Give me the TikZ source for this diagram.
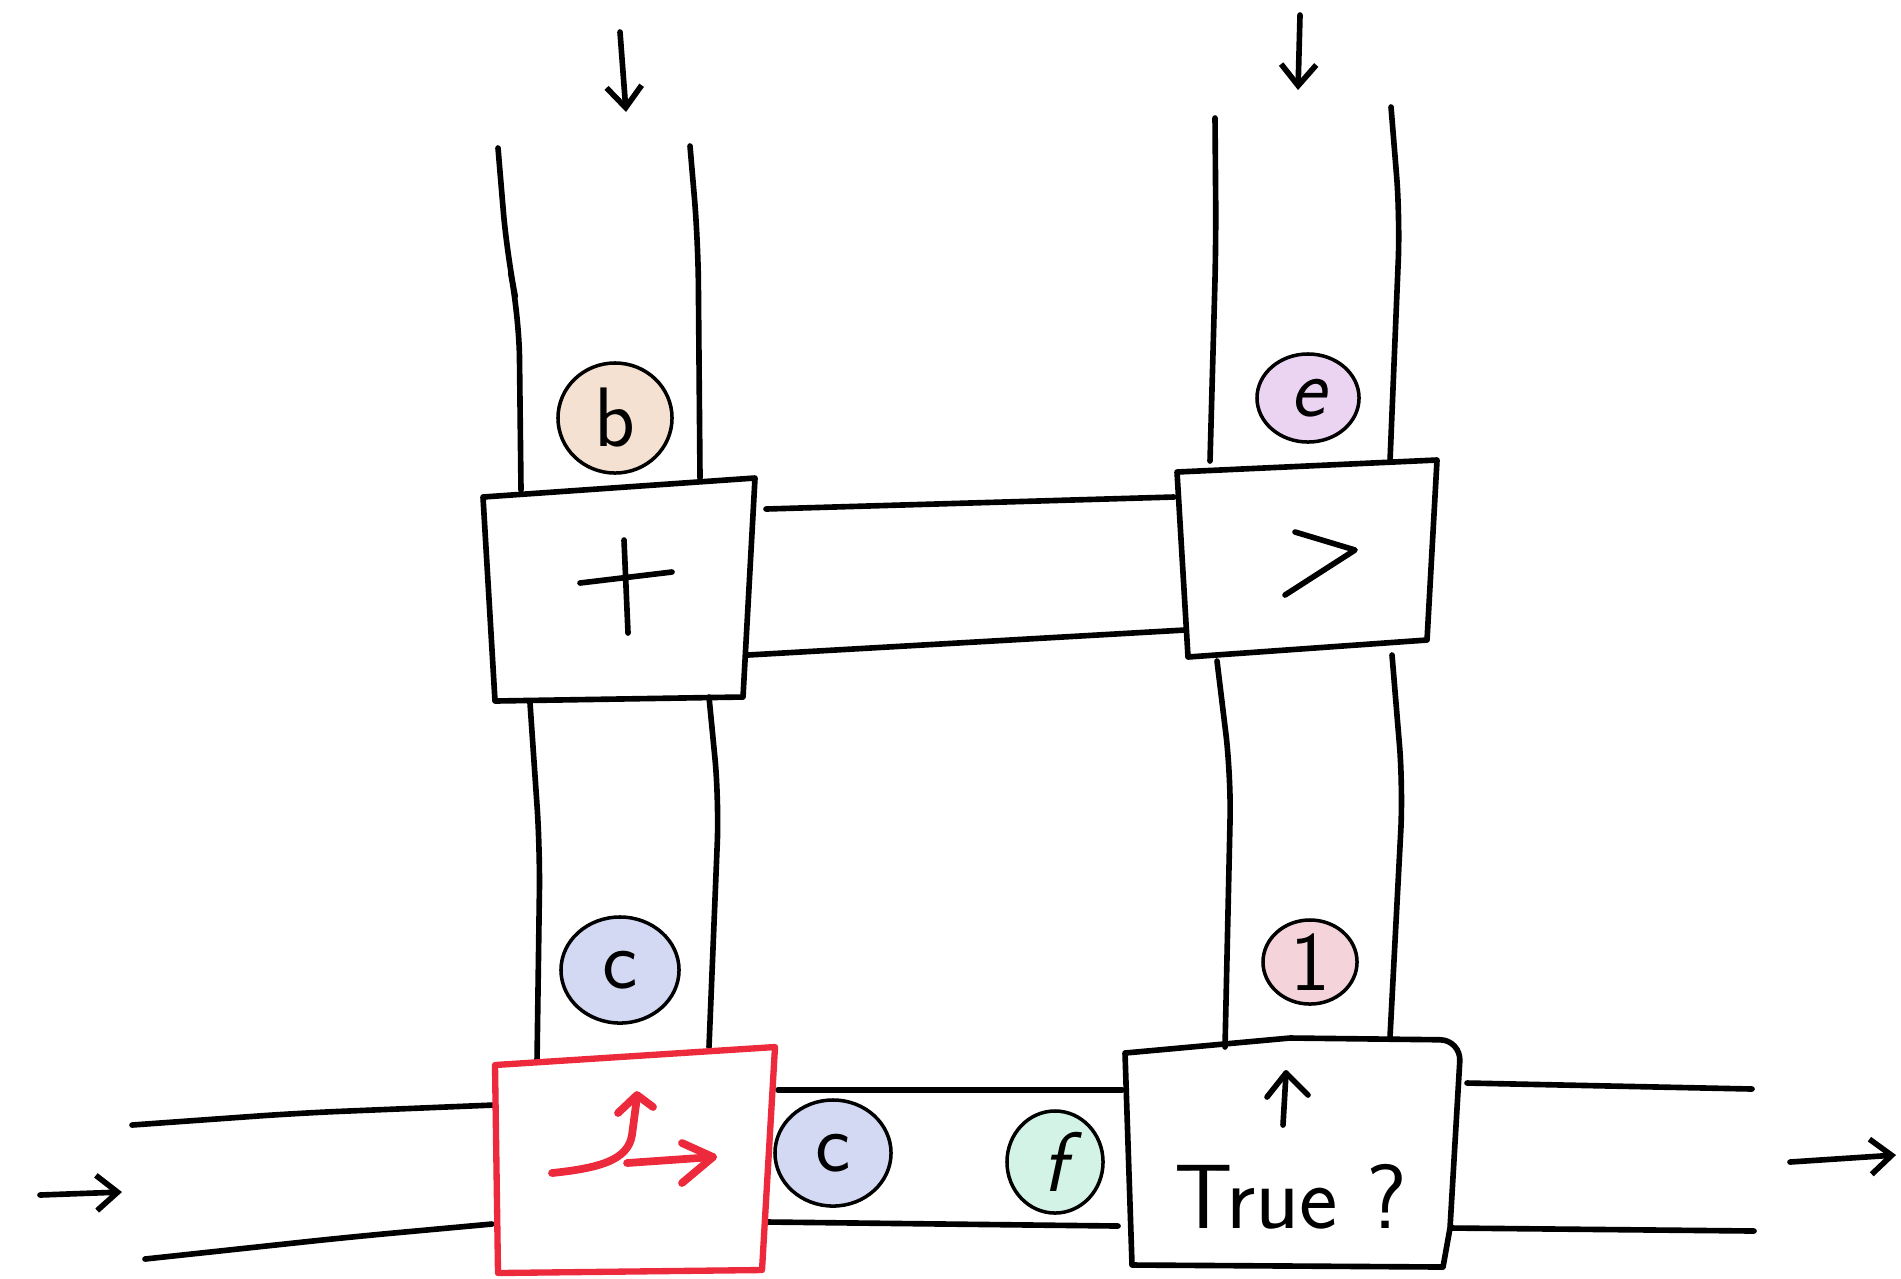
\documentclass[tikz,border=0pt]{standalone}
\usetikzlibrary{shapes.geometric,arrows.meta}
\definecolor{sred}{HTML}{EC2A3C}
\definecolor{tb}{HTML}{F4E1D1}
\definecolor{te}{HTML}{EBD3F2}
\definecolor{tc}{HTML}{D3D8F3}
\definecolor{tone}{HTML}{F4D3DB}
\definecolor{tf}{HTML}{D3F3E7}
\begin{document}
\begin{tikzpicture}[x=0.01cm,y=-0.01cm,line width=1.6pt,line cap=round,line join=round,
  pen/.style={draw=black,line width=1.6pt,rounded corners=12pt},
  redpen/.style={draw=sred,line width=1.8pt},
  redstroke/.style={draw=sred,line width=2.2pt},
  boxline/.style={draw=black,line width=1.6pt},
  token/.style={ellipse,draw=black,line width=1.0pt,inner sep=0pt,
    font=\sffamily\fontsize{24}{24}\selectfont},
  barb/.style={-{Straight Barb[length=6pt,width=10pt]}},
  lbl/.style={font=\sffamily\fontsize{26}{26}\selectfont,inner sep=0pt}]
\useasboundingbox (0,0) rectangle (1901,1278);

% top-left vertical tube
\draw[pen] (498,148) -- (507,255) -- (519,315) -- (521,490);
\draw[pen] (690,146) -- (698,240) -- (700,478);
% top-right vertical tube
\draw[pen] (1215,118) -- (1216,243) -- (1210,461);
\draw[pen] (1391,107) -- (1400,218) -- (1390,461);

% box +
\coordinate (p1) at (483,497); \coordinate (p2) at (755,478);
\coordinate (p3) at (743,697); \coordinate (p4) at (495,701);
\draw[boxline] (p1) -- (p2) -- (p3) -- (p4) -- cycle;
\draw[pen] (580,583) -- (672,572);
\draw[pen] (624,540) -- (628,633);

% box >
\coordinate (g1) at (1177,472); \coordinate (g2) at (1437,460);
\coordinate (g3) at (1427,640); \coordinate (g4) at (1188,657);
\draw[boxline] (g1) -- (g2) -- (g3) -- (g4) -- cycle;
\draw[boxline] (1295,532) -- (1355,550) -- (1285,595);

% horizontal tube between + and >
\draw[pen] (766,509) -- (1174,497);
\draw[pen] (748,655) -- (1185,630);

% middle vertical tubes
\draw[pen] (530,703) -- (540,849) -- (537,1062);
\draw[pen] (709,697) -- (719,800) -- (709,1047);
\draw[pen] (1217,661) -- (1231,776) -- (1225,1047);
\draw[pen] (1392,655) -- (1403,788) -- (1390,1037);

% bottom tubes
\draw[pen] (132,1125) -- (300,1113) -- (494,1105);
\draw[pen] (145,1259) -- (350,1237) -- (492,1224);
\draw[pen] (778,1090) -- (1122,1090);
\draw[pen] (768,1222) -- (1118,1226);
\draw[pen] (1467,1083) -- (1752,1089);
\draw[pen] (1451,1228) -- (1754,1231);

% red box
\coordinate (r1) at (495,1065); \coordinate (r2) at (775,1047);
\coordinate (r3) at (762,1270); \coordinate (r4) at (498,1273);
\draw[redpen] (r1) -- (r2) -- (r3) -- (r4) -- cycle;
\draw[redstroke] (552,1173) .. controls (600,1168) and (628,1160) .. (632,1135) -- (637,1097);
\draw[redstroke] (618,1113) -- (637,1095) -- (653,1107);
\draw[redstroke] (627,1163) -- (713,1157);
\draw[redstroke] (682,1143) -- (713,1157) -- (682,1183);

% True box
\coordinate (t1) at (1125,1053); \coordinate (t2) at (1290,1038);
\coordinate (t4) at (1461,1040);
\coordinate (t5) at (1450,1228); \coordinate (t6) at (1443,1267);
\coordinate (t7) at (1132,1265);
\draw[boxline] (t1) -- (t2) [rounded corners=6pt] -- (t4) [sharp corners] -- (t5) -- (t6) -- (t7) -- cycle;
\draw[pen] (1283,1125) -- (1286,1073);
\draw[boxline] (1267,1097) -- (1286,1073) -- (1308,1095);
\node[lbl,anchor=base west] (truelbl) at (1172,1228) {True ?};

% tokens
\node[token,fill=tb,minimum width=1.14cm,minimum height=1.10cm] (tokb) at (615,418) {b};
\node[token,fill=te,minimum width=1.02cm,minimum height=0.88cm] (toke) at (1308,398) {\itshape e};
\node[token,fill=tc,minimum width=1.18cm,minimum height=1.06cm] (tokc1) at (620,970) {c};
\node[token,fill=tone,minimum width=0.94cm,minimum height=0.84cm] (tok1) at (1310,962) {1};
\node[token,fill=tc,minimum width=1.16cm,minimum height=1.06cm] (tokc2) at (833,1153) {c};
\node[token,fill=tf,minimum width=0.96cm,minimum height=1.02cm] (tokf) at (1055,1162) {\itshape f};

% flow arrows
\coordinate (ain1) at (620,32); \coordinate (ain1e) at (626,112);
\coordinate (ain2) at (1300,15); \coordinate (ain2e) at (1298,90);
\coordinate (ainl) at (40,1195); \coordinate (ainle) at (122,1192);
\coordinate (aout) at (1790,1162); \coordinate (aoute) at (1896,1155);
\draw[boxline,barb] (ain1) -- (ain1e);
\draw[boxline,barb] (ain2) -- (ain2e);
\draw[boxline,barb] (ainl) -- (ainle);
\draw[boxline,barb] (aout) -- (aoute);
\end{tikzpicture}
\end{document}
